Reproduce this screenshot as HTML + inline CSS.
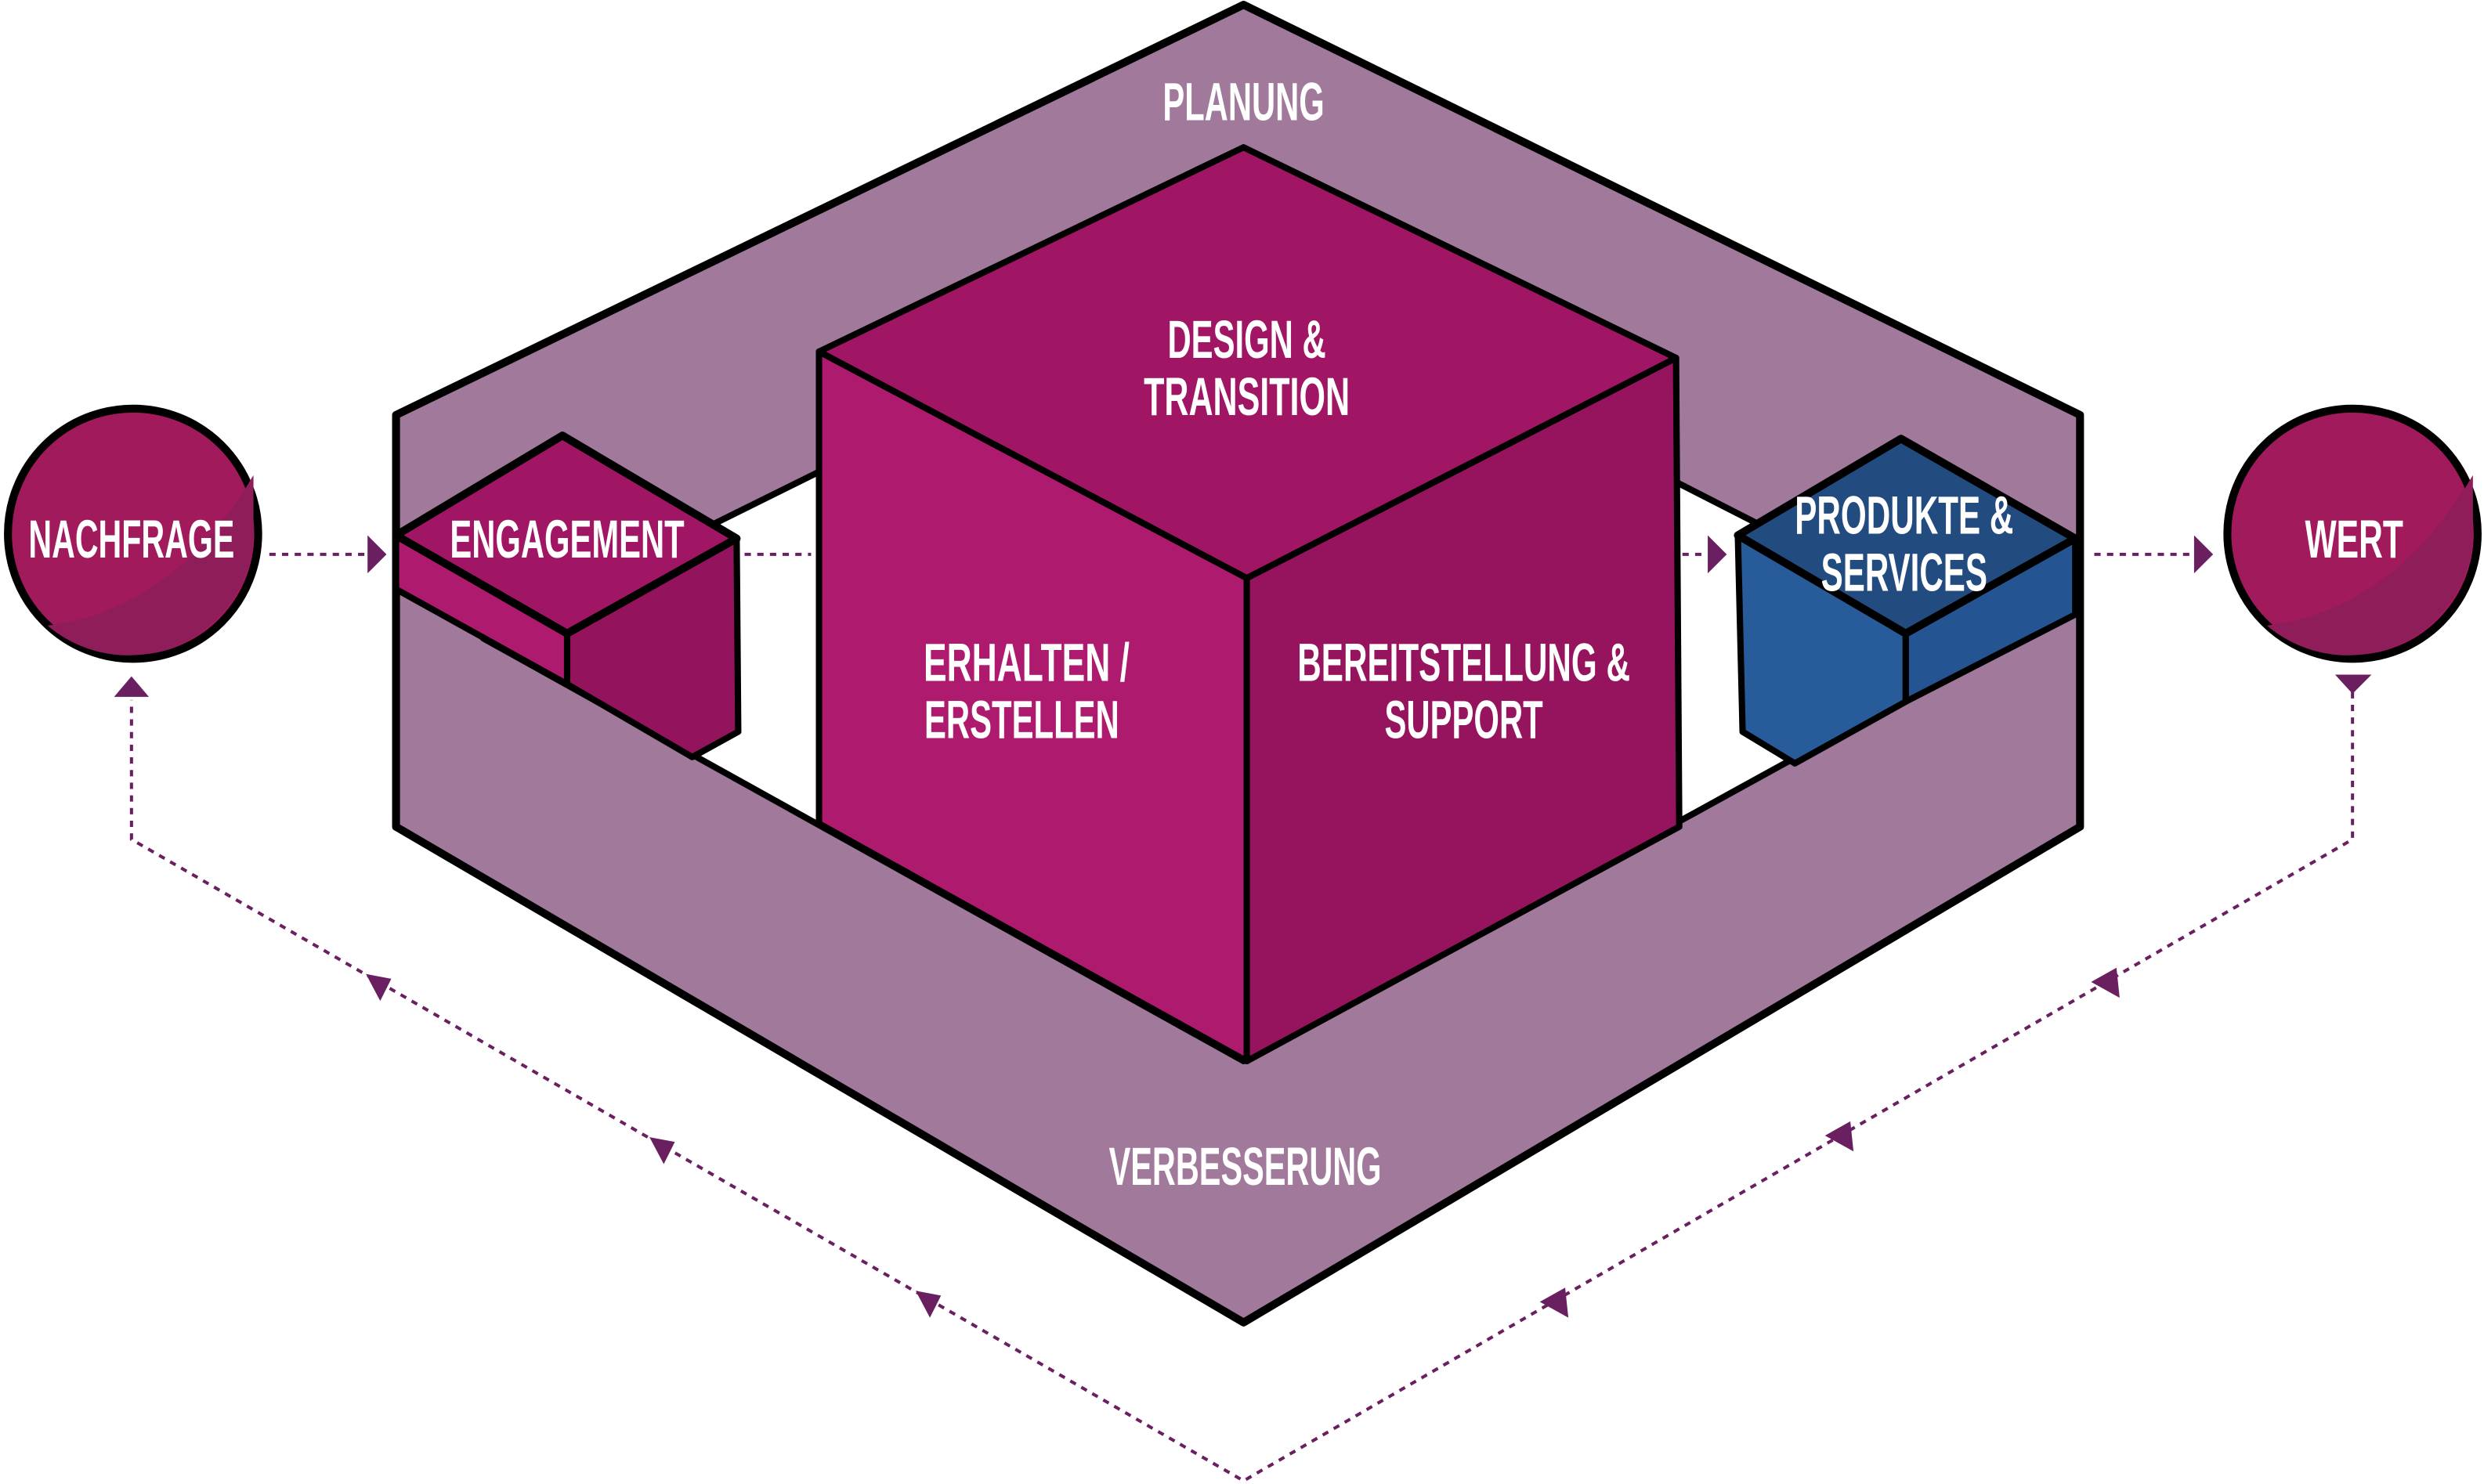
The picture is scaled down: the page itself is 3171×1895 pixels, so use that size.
<!DOCTYPE html>
<html><head><meta charset="utf-8"><style>
html,body{margin:0;padding:0;background:#fff;}
svg{display:block;}
text{font-family:"Liberation Sans",sans-serif;font-weight:bold;fill:#fff;text-anchor:middle;}
</style></head><body>
<svg width="3171" height="1895" viewBox="0 0 1568 937" preserveAspectRatio="none" xmlns="http://www.w3.org/2000/svg">
<g stroke-linejoin="round">
<polygon points="785,3 1313,262 1313,522 785,835 250,522 250,262" fill="#a17a9b" stroke="#000" stroke-width="5"/>
<polygon points="785,165 1261,408 785,670 305,403" fill="#fff" stroke="#000" stroke-width="4"/>
<polygon points="517,222 787,365 787,670 517,520" fill="#ad1a6e" stroke="#000" stroke-width="4"/>
<polygon points="787,365 1058,226 1060,522 787,670" fill="#96145e" stroke="#000" stroke-width="4"/>
<polygon points="517,222 785,93 1058,226 787,365" fill="#a01664" stroke="#000" stroke-width="4"/>
<polygon points="250,338 358,400 358,432 250,372" fill="#ad1a6e" stroke="#000" stroke-width="4"/>
<polygon points="358,400 465,340 466,462 437,478 358,432" fill="#93135c" stroke="#000" stroke-width="4"/>
<polygon points="250,338 355,275 465,340 358,400" fill="#a01664" stroke="#000" stroke-width="5"/>
<polygon points="1097,338 1203,400 1203,443 1133,482 1100,462" fill="#285b99" stroke="#000" stroke-width="4"/>
<polygon points="1203,400 1310,340 1310,388 1203,443" fill="#245592" stroke="#000" stroke-width="4"/>
<polygon points="1097,338 1200,277 1310,340 1203,400" fill="#224b80" stroke="#000" stroke-width="5"/>
<circle cx="84" cy="337" r="79" fill="#a01a5c" stroke="#000" stroke-width="5"/>
<path d="M160,330 A79,79 0 0 1 30,395 Q110,385 160,300Z" fill="#8f1d5a"/>
<circle cx="1485" cy="337" r="79" fill="#a01a5c" stroke="#000" stroke-width="5"/>
<path d="M1561,330 A79,79 0 0 1 1431,395 Q1511,385 1561,300Z" fill="#8f1d5a"/>
</g>
<g stroke="#6a2060" stroke-width="2" stroke-dasharray="4,4" fill="none">
<line x1="170" y1="350" x2="232" y2="350"/>
<line x1="470" y1="350" x2="512" y2="350"/>
<line x1="1062" y1="350" x2="1078" y2="350"/>
<line x1="1322" y1="350" x2="1385" y2="350"/>
<polyline points="1485,437 1485,530 785,935 83,530 83,442"/>
</g>
<g fill="#6a2060">
<polygon points="232,338 244,350 232,362"/>
<polygon points="1078,338 1090,350 1078,362"/>
<polygon points="1385,338 1397,350 1385,362"/>
<polygon points="1474,426 1497,426 1485,438"/>
<polygon points="72,440 94,440 83,427"/>
<polygon points="1320,620 1336,611 1338,630"/>
<polygon points="1152,717 1168,708 1170,727"/>
<polygon points="972,822 988,813 990,832"/>
<polygon points="231,615 247,618 240,632"/>
<polygon points="410,718 426,721 419,735"/>
<polygon points="578,815 594,818 587,832"/>
</g>
<g font-size="34">
<text x="785" y="76" textLength="102" lengthAdjust="spacingAndGlyphs">PLANUNG</text>
<text x="787" y="226" textLength="100" lengthAdjust="spacingAndGlyphs">DESIGN &amp;</text>
<text x="787" y="262" textLength="130" lengthAdjust="spacingAndGlyphs">TRANSITION</text>
<text x="648" y="430" textLength="130" lengthAdjust="spacingAndGlyphs">ERHALTEN /</text>
<text x="645" y="466" textLength="123" lengthAdjust="spacingAndGlyphs">ERSTELLEN</text>
<text x="924" y="430" textLength="210" lengthAdjust="spacingAndGlyphs">BEREITSTELLUNG &amp;</text>
<text x="924" y="466" textLength="100" lengthAdjust="spacingAndGlyphs">SUPPORT</text>
<text x="358" y="352" textLength="148" lengthAdjust="spacingAndGlyphs">ENGAGEMENT</text>
<text x="1202" y="337" textLength="138" lengthAdjust="spacingAndGlyphs">PRODUKTE &amp;</text>
<text x="1202" y="373" textLength="105" lengthAdjust="spacingAndGlyphs">SERVICES</text>
<text x="83" y="352" textLength="130" lengthAdjust="spacingAndGlyphs">NACHFRAGE</text>
<text x="1486" y="352" textLength="62" lengthAdjust="spacingAndGlyphs">WERT</text>
<text x="786" y="748" textLength="172" lengthAdjust="spacingAndGlyphs">VERBESSERUNG</text>
</g>
</svg>
</body></html>
